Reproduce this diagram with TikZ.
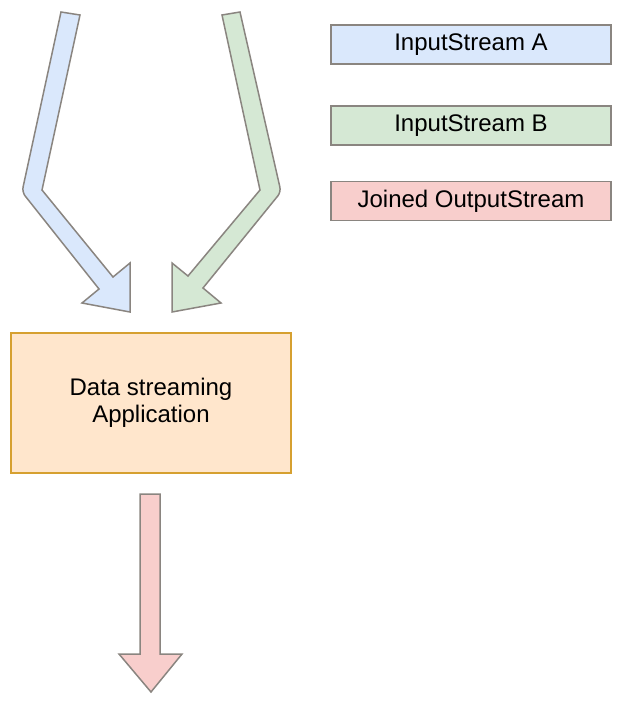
\documentclass[tikz,border=0pt]{standalone}
\usepackage{fontspec}
\setmainfont{Liberation Sans}
\definecolor{blueF}{HTML}{DAE8FC}
\definecolor{greenF}{HTML}{D5E8D4}
\definecolor{redF}{HTML}{F8CECC}
\definecolor{orangeF}{HTML}{FFE6CC}
\definecolor{orangeD}{HTML}{D6A030}
\definecolor{grayD}{HTML}{8A8580}
\begin{document}
\begin{tikzpicture}[x=1pt,y=-1pt,
  legendbox/.style={draw=grayD, line width=1.5pt, minimum width=280pt, minimum height=39pt, inner sep=0pt, font=\fontsize{24}{28}\selectfont},
  appbox/.style={draw=orangeD, fill=orangeF, line width=1.5pt, minimum width=280pt, minimum height=140pt, inner sep=0pt, align=center, font=\fontsize{24}{27}\selectfont},
  bigarrow/.style={draw=grayD, line width=1.5pt, line join=miter}]
\useasboundingbox (0,0) rectangle (622,704);
% legend
\node[legendbox, fill=blueF] (legA) at (471,44.5) {InputStream A};
\node[legendbox, fill=greenF] (legB) at (471,125.5) {InputStream B};
\node[legendbox, fill=redF] (legC) at (471,201) {Joined OutputStream};
% application box
\node[appbox] (app) at (151,403) {Data streaming\\Application};
% blue input arrow
\draw[bigarrow, fill=blueF] (61,12) -- (80,15) -- (42,190) -- (113,277) -- (130,263) -- (130,312) -- (82,303) -- (99,289)
  [rounded corners=5pt] -- (22,192) [sharp corners] -- cycle;
% green input arrow
\draw[bigarrow, fill=greenF] (240,12) -- (222,15) -- (260,190) -- (188,276) -- (172,263) -- (172,312) -- (221,303) -- (203,288)
  [rounded corners=5pt] -- (281,192) [sharp corners] -- cycle;
% output arrow
\draw[bigarrow, fill=redF] (140,494) -- (160,494) -- (160,654) -- (182,654) -- (151,692) -- (119,654) -- (140,654) -- cycle;
\end{tikzpicture}
\end{document}
